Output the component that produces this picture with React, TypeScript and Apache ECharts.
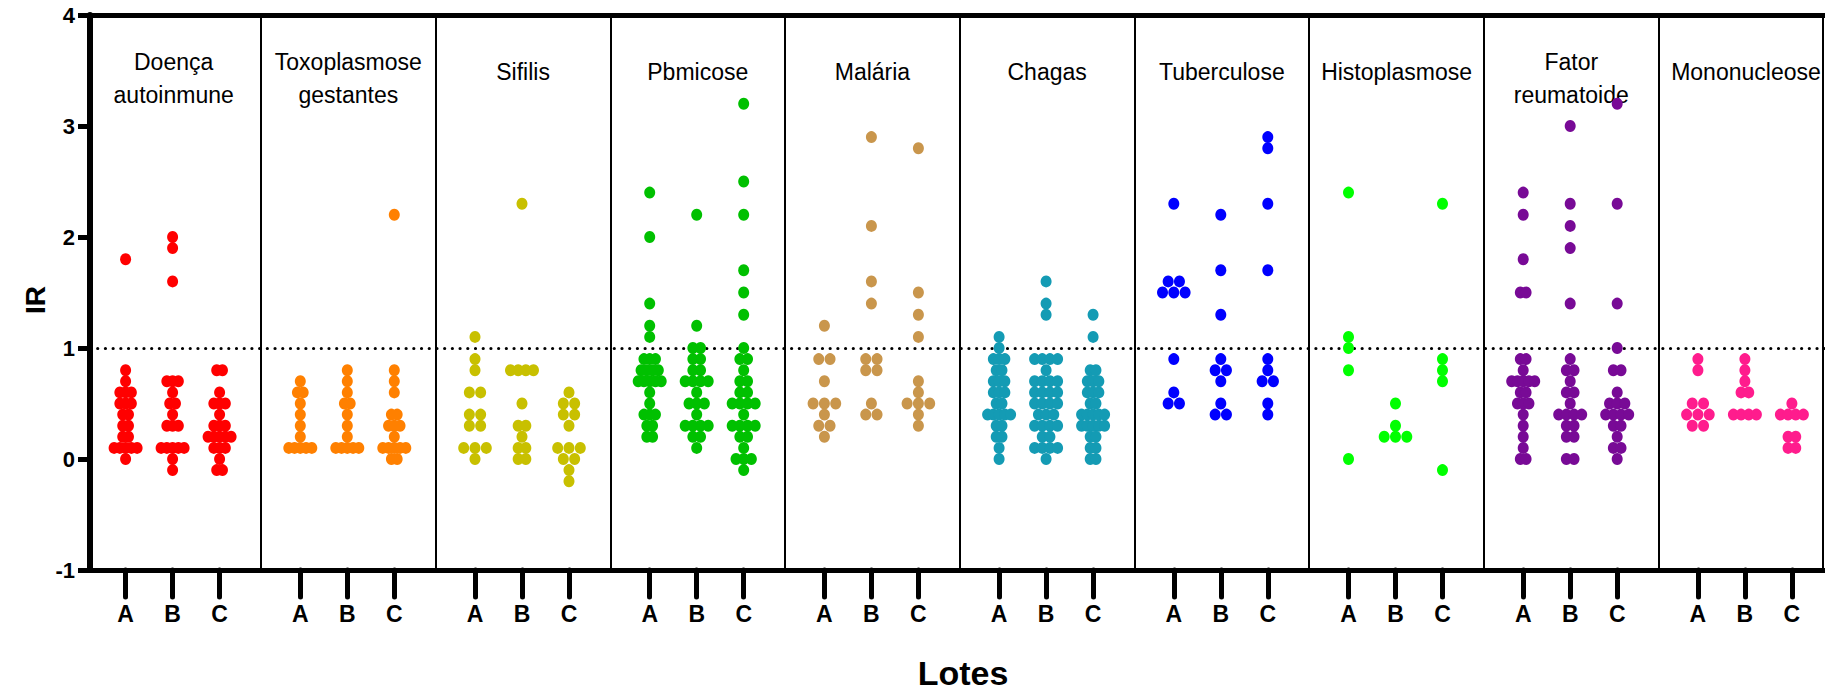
import React, { useEffect, useRef } from "react";
import * as echarts from "echarts";

// ---------- data ----------
const groups = [
  "Doença\nautoinmune",
  "Toxoplasmose\ngestantes",
  "Sifilis",
  "Pbmicose",
  "Malária",
  "Chagas",
  "Tuberculose",
  "Histoplasmose",
  "Fator\nreumatoide",
  "Mononucleose",
];
const lots = ["A", "B", "C"];
const yTicks = [-1, 0, 1, 2, 3, 4];
const cutoff = 1;
const xTitle = "Lotes";
const yTitle = "IR";

// values per lot [A, B, C]
const doencaAutoinmune = [
  [1.8, 0.8, 0.7, 0.6, 0.6, 0.6, 0.5, 0.5, 0.5, 0.4, 0.4, 0.3, 0.3, 0.2, 0.2, 0.1, 0.1, 0.1, 0.1, 0.1, 0.0],
  [2.0, 1.9, 1.6, 0.7, 0.7, 0.7, 0.6, 0.5, 0.5, 0.4, 0.3, 0.3, 0.3, 0.1, 0.1, 0.1, 0.1, 0.1, 0.0, -0.1],
  [0.8, 0.8, 0.6, 0.5, 0.5, 0.5, 0.4, 0.3, 0.3, 0.3, 0.2, 0.2, 0.2, 0.2, 0.2, 0.1, 0.1, 0.1, 0.0, -0.1, -0.1],
];
const toxoplasmoseGestantes = [
  [0.7, 0.6, 0.6, 0.5, 0.4, 0.3, 0.2, 0.1, 0.1, 0.1, 0.1, 0.1],
  [0.8, 0.7, 0.6, 0.5, 0.5, 0.4, 0.3, 0.2, 0.1, 0.1, 0.1, 0.1, 0.1],
  [2.2, 0.8, 0.7, 0.6, 0.4, 0.4, 0.3, 0.3, 0.3, 0.2, 0.1, 0.1, 0.1, 0.1, 0.1, 0.0, 0.0],
];
const sifilis = [
  [1.1, 0.9, 0.8, 0.6, 0.6, 0.4, 0.4, 0.3, 0.3, 0.1, 0.1, 0.1, 0.0],
  [2.3, 0.8, 0.8, 0.8, 0.8, 0.5, 0.3, 0.3, 0.2, 0.1, 0.1, 0.0, 0.0],
  [0.6, 0.5, 0.5, 0.4, 0.4, 0.3, 0.1, 0.1, 0.1, 0.0, 0.0, -0.1, -0.2],
];
const pbmicose = [
  [2.4, 2.0, 1.4, 1.2, 1.1, 0.9, 0.9, 0.9, 0.8, 0.8, 0.8, 0.8, 0.7, 0.7, 0.7, 0.7, 0.7, 0.6, 0.5, 0.4, 0.4, 0.4, 0.3, 0.3, 0.2, 0.2],
  [2.2, 1.2, 1.0, 1.0, 0.9, 0.9, 0.8, 0.8, 0.7, 0.7, 0.7, 0.7, 0.6, 0.5, 0.5, 0.5, 0.4, 0.3, 0.3, 0.3, 0.3, 0.2, 0.2, 0.1],
  [3.2, 2.5, 2.2, 1.7, 1.5, 1.3, 1.0, 0.9, 0.9, 0.8, 0.7, 0.7, 0.6, 0.6, 0.5, 0.5, 0.5, 0.5, 0.4, 0.3, 0.3, 0.3, 0.3, 0.2, 0.2, 0.1, 0.0, 0.0, 0.0, -0.1],
];
const malaria = [
  [1.2, 0.9, 0.9, 0.7, 0.5, 0.5, 0.5, 0.4, 0.3, 0.3, 0.2],
  [2.9, 2.1, 1.6, 1.4, 0.9, 0.9, 0.8, 0.8, 0.5, 0.4, 0.4],
  [2.8, 1.5, 1.3, 1.1, 0.7, 0.6, 0.5, 0.5, 0.5, 0.4, 0.3],
];
const chagas = [
  [1.1, 1.0, 0.9, 0.9, 0.9, 0.8, 0.8, 0.7, 0.7, 0.7, 0.6, 0.6, 0.6, 0.5, 0.5, 0.4, 0.4, 0.4, 0.4, 0.4, 0.3, 0.3, 0.2, 0.2, 0.1, 0.0],
  [1.6, 1.4, 1.3, 0.9, 0.9, 0.9, 0.9, 0.8, 0.7, 0.7, 0.7, 0.7, 0.6, 0.6, 0.6, 0.6, 0.5, 0.5, 0.5, 0.5, 0.4, 0.4, 0.4, 0.3, 0.3, 0.3, 0.3, 0.2, 0.2, 0.1, 0.1, 0.1, 0.1, 0.0],
  [1.3, 1.1, 0.8, 0.8, 0.7, 0.7, 0.7, 0.6, 0.6, 0.6, 0.5, 0.5, 0.4, 0.4, 0.4, 0.4, 0.4, 0.3, 0.3, 0.3, 0.3, 0.3, 0.2, 0.2, 0.1, 0.1, 0.0, 0.0],
];
const tuberculose = [
  [2.3, 1.6, 1.6, 1.5, 1.5, 1.5, 0.9, 0.6, 0.5, 0.5],
  [2.2, 1.7, 1.3, 0.9, 0.8, 0.8, 0.7, 0.5, 0.4, 0.4],
  [2.9, 2.8, 2.3, 1.7, 0.9, 0.8, 0.7, 0.7, 0.5, 0.4],
];
const histoplasmose = [
  [2.4, 1.1, 1.0, 0.8, 0.0],
  [0.5, 0.3, 0.2, 0.2, 0.2],
  [2.3, 0.9, 0.8, 0.7, -0.1],
];
const fatorReumatoide = [
  [2.4, 2.2, 1.8, 1.5, 1.5, 0.9, 0.9, 0.8, 0.7, 0.7, 0.7, 0.7, 0.7, 0.6, 0.6, 0.5, 0.5, 0.5, 0.4, 0.3, 0.2, 0.1, 0.0, 0.0],
  [3.0, 2.3, 2.1, 1.9, 1.4, 0.9, 0.8, 0.8, 0.7, 0.6, 0.6, 0.5, 0.4, 0.4, 0.4, 0.4, 0.3, 0.3, 0.2, 0.2, 0.0, 0.0],
  [3.2, 2.3, 1.4, 1.0, 0.8, 0.8, 0.6, 0.5, 0.5, 0.5, 0.4, 0.4, 0.4, 0.4, 0.3, 0.3, 0.2, 0.1, 0.1, 0.0],
];
const mononucleose = [
  [0.9, 0.8, 0.5, 0.5, 0.4, 0.4, 0.4, 0.3, 0.3],
  [0.9, 0.8, 0.7, 0.6, 0.6, 0.4, 0.4, 0.4, 0.4],
  [0.5, 0.4, 0.4, 0.4, 0.4, 0.2, 0.2, 0.1, 0.1],
];

const groupValues = [
  doencaAutoinmune,
  toxoplasmoseGestantes,
  sifilis,
  pbmicose,
  malaria,
  chagas,
  tuberculose,
  histoplasmose,
  fatorReumatoide,
  mononucleose,
];

// ---------- styles / layout ----------
const colors = [
  "#FF0000",
  "#FF8000",
  "#C8C000",
  "#00C000",
  "#C9964C",
  "#149BB4",
  "#0000FF",
  "#00FF00",
  "#780A96",
  "#FF1C8D",
];

const W = 1825;
const H = 694;
const GRID_LEFT = 90;
const GRID_TOP = 15;
const GRID_BOTTOM = 124;
// x axis measured in "panel" units: panel g spans [g, g+1]
const X_MIN = 0.0212;
const X_MAX = 9.9525;
const RIGHT_EDGE = 9.9394;
const LOT_POS = [0.225, 0.494, 0.763];
const PX_PER_UNIT = (W - GRID_LEFT) / (X_MAX - X_MIN);
const DOT_STEP_PX = 11.3;
const MAX_SPREAD_PX = 23;
const FONT = '"Liberation Sans", Arial, Helvetica, sans-serif';

function swarm(values: number[], g: number, k: number): number[][] {
  const rows = new Map<string, number[]>();
  values.forEach((v) => {
    const key = v.toFixed(2);
    if (!rows.has(key)) rows.set(key, []);
    rows.get(key)!.push(v);
  });
  let maxN = 1;
  rows.forEach((r) => (maxN = Math.max(maxN, r.length)));
  const step = maxN > 1 ? Math.min(DOT_STEP_PX, MAX_SPREAD_PX / (maxN - 1)) : 0;
  const out: number[][] = [];
  rows.forEach((r) => {
    const n = r.length;
    r.forEach((v, i) => {
      const offPx = (i - (n - 1) / 2) * step;
      out.push([g + LOT_POS[k] + offPx / PX_PER_UNIT, v]);
    });
  });
  return out;
}

const tickVals: number[] = [];
groups.forEach((_, g) => lots.forEach((_, k) => tickVals.push(g + LOT_POS[k])));

function lotLabel(v: number): string {
  const idx = tickVals.findIndex((t) => Math.abs(t - v) < 1e-4);
  return idx >= 0 ? lots[idx % lots.length] : "";
}

export default function App() {
  const ref = useRef<HTMLDivElement>(null);

  useEffect(() => {
    if (!ref.current) return;
    const chart = echarts.init(ref.current, undefined, { renderer: "svg" });

    const separators = groups.slice(1).map((_, i) => i + 1);
    separators.push(RIGHT_EDGE);

    const series: any[] = groups.map((name, g) => ({
      type: "scatter",
      name: name.replace("\n", " "),
      data: groupValues[g].flatMap((vals, k) => swarm(vals, g, k)),
      symbol: "circle",
      symbolSize: [11, 12],
      itemStyle: { color: colors[g], opacity: 1 },
      z: 6,
      silent: true,
      xAxisIndex: 0,
      yAxisIndex: 0,
    }));

    series.push({
      type: "scatter",
      name: "lines",
      data: [],
      xAxisIndex: 0,
      yAxisIndex: 0,
      silent: true,
      markLine: {
        silent: true,
        symbol: ["none", "none"],
        label: { show: false },
        z: 4,
        data: [
          ...separators.map((x) => ({
            xAxis: x,
            lineStyle: { type: "solid", width: 2, color: "#000" },
          })),
          {
            yAxis: cutoff,
            lineStyle: { type: [0.01, 7.7], width: 3.2, cap: "round", color: "#000" },
          },
        ],
      },
    });

    const option: any = {
      animation: false,
      backgroundColor: "#fff",
      textStyle: { fontFamily: FONT },
      grid: {
        left: GRID_LEFT,
        right: 0,
        top: GRID_TOP,
        bottom: GRID_BOTTOM,
        containLabel: false,
        outerBoundsMode: "none",
      },
      xAxis: [
        {
          type: "value",
          position: "bottom",
          min: X_MIN,
          max: X_MAX,
          axisLine: { show: true, onZero: false, lineStyle: { color: "#000", width: 5 } },
          axisTick: {
            show: true,
            customValues: tickVals,
            length: 27,
            lineStyle: { color: "#000", width: 5, cap: "round" },
          },
          axisLabel: {
            show: true,
            customValues: tickVals,
            formatter: (v: number) => lotLabel(v),
            color: "#000",
            fontSize: 23,
            fontWeight: "bold",
            fontFamily: FONT,
            margin: 32,
          },
          splitLine: { show: false },
        },
        {
          type: "value",
          position: "top",
          min: X_MIN,
          max: X_MAX,
          axisLine: { show: true, onZero: false, lineStyle: { color: "#000", width: 5 } },
          axisTick: { show: false },
          axisLabel: { show: false },
          splitLine: { show: false },
        },
      ],
      yAxis: {
        type: "value",
        min: yTicks[0],
        max: yTicks[yTicks.length - 1],
        interval: 1,
        axisLine: { show: true, onZero: false, lineStyle: { color: "#000", width: 6 } },
        axisTick: { show: true, length: 12, lineStyle: { color: "#000", width: 5 } },
        axisLabel: {
          color: "#000",
          fontSize: 22,
          fontWeight: "bold",
          fontFamily: FONT,
          margin: 15,
        },
        splitLine: { show: false },
      },
      series,
    };

    chart.setOption(option);

    const graphics: any[] = groups.map((name, g) => {
      const cx = chart.convertToPixel({ xAxisIndex: 0 }, g + 0.5) as number;
      const twoLines = name.includes("\n");
      return {
        type: "text",
        x: cx,
        y: twoLines ? 78.5 : 72,
        silent: true,
        style: {
          text: name,
          fill: "#000",
          fontSize: 23,
          fontFamily: FONT,
          lineHeight: 33,
          align: "center",
          verticalAlign: "middle",
        },
      };
    });
    graphics.push({
      type: "text",
      x: 963,
      y: 673,
      silent: true,
      style: {
        text: xTitle,
        fill: "#000",
        fontSize: 34,
        fontWeight: "bold",
        fontFamily: FONT,
        align: "center",
        verticalAlign: "middle",
      },
    });
    graphics.push({
      type: "text",
      x: 35,
      y: 300,
      rotation: Math.PI / 2,
      silent: true,
      style: {
        text: yTitle,
        fill: "#000",
        fontSize: 28,
        fontWeight: "bold",
        fontFamily: FONT,
        align: "center",
        verticalAlign: "middle",
      },
    });
    chart.setOption({ graphic: graphics });

    return () => chart.dispose();
  }, []);

  return (
    <div
      ref={ref}
      style={{ position: "absolute", left: 0, top: 0, width: W, height: H, background: "#fff" }}
    />
  );
}
